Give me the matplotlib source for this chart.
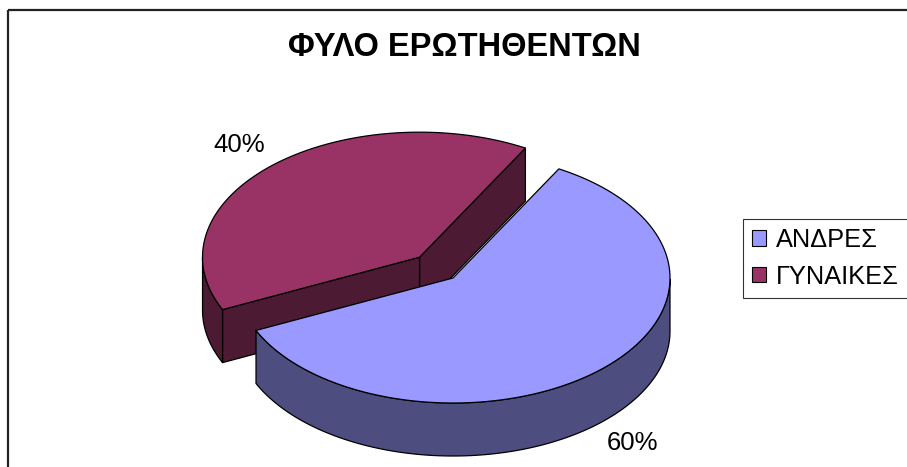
import matplotlib
matplotlib.use('Agg')
import matplotlib.pyplot as plt
import numpy as np
from matplotlib.patches import Polygon, Rectangle, Patch

plt.rcParams['font.family'] = ['Liberation Sans', 'DejaVu Sans']

# δεδομένα
title = 'ΦΥΛΟ ΕΡΩΤΗΘΕΝΤΩΝ'
labels = ['ΑΝΔΡΕΣ', 'ΓΥΝΑΙΚΕΣ']
shares = [60, 40]
top_colors = ['#9999FF', '#993366']
side_colors = ['#4D4D80', '#4D1A33']
explode = [0.0, 0.227]

# γεωμετρία 3D πίτας (σε pixel)
cx, cy = 453, 278
rx, ry = 217, 125
depth = 53
start = 60.8

fig = plt.figure(figsize=(9.07, 4.67), dpi=100)
ax = fig.add_axes([0, 0, 1, 1])
ax.set_xlim(0, 907)
ax.set_ylim(467, 0)
ax.axis('off')


def pt(c, t):
    return c[0] + rx * np.cos(np.radians(t)), c[1] - ry * np.sin(np.radians(t))


total = float(sum(shares))
a1 = start
slices = []
for i, v in enumerate(shares):
    a2 = a1 - 360 * v / total
    mid = (a1 + a2) / 2
    c = (cx + explode[i] * rx * np.cos(np.radians(mid)),
         cy - explode[i] * ry * np.sin(np.radians(mid)))
    slices.append((i, a2, a1, mid, c))
    a1 = a2

# πίσω κομμάτια πρώτα
slices.sort(key=lambda s: s[4][1])

for i, lo, hi, mid, c in slices:
    kw = dict(edgecolor='black', linewidth=0.9, joinstyle='round')
    # πλευρικά τοιχώματα (ακτινικά)
    for ang, nrm in [(lo, lo - 90), (hi, hi + 90)]:
        if np.sin(np.radians(nrm)) < 0:
            x, y = pt(c, ang)
            ax.add_patch(Polygon([c, (x, y), (x, y + depth), (c[0], c[1] + depth)],
                                 facecolor=side_colors[i], **kw))
    # εξωτερικό τοίχωμα (μπροστινό)
    t = np.linspace(lo, hi, 300)
    t = t[np.sin(np.radians(t)) <= 0.0001]
    if len(t) > 1:
        xs = c[0] + rx * np.cos(np.radians(t))
        ys = c[1] - ry * np.sin(np.radians(t))
        poly = list(zip(xs, ys)) + list(zip(xs[::-1], ys[::-1] + depth))
        ax.add_patch(Polygon(poly, facecolor=side_colors[i], **kw))
    # πάνω επιφάνεια
    t = np.linspace(lo, hi, 300)
    xs = c[0] + rx * np.cos(np.radians(t))
    ys = c[1] - ry * np.sin(np.radians(t))
    ax.add_patch(Polygon([c] + list(zip(xs, ys)), facecolor=top_colors[i], **kw))
    # ετικέτα ποσοστού
    lx = c[0] + 1.22 * rx * np.cos(np.radians(mid))
    ly = c[1] - 1.22 * ry * np.sin(np.radians(mid))
    if np.sin(np.radians(mid)) < 0:
        ly += depth
    ax.text(lx, ly, '%d%%' % round(100 * shares[i] / total), fontsize=18.5,
            ha='center', va='center')

ax.text(464, 48, title, fontsize=23.5, fontweight='bold', ha='center', va='center')

# περίγραμμα γραφήματος
ax.add_patch(Rectangle((8, 10), 1000, 1000, fill=False, edgecolor='#222222', linewidth=1.6))

handles = [Patch(facecolor=top_colors[i], edgecolor='black', linewidth=0.8) for i in range(len(labels))]
leg = ax.legend(handles, labels, loc='upper left',
                bbox_to_anchor=(743 / 907, 1 - 299 / 467, 190 / 907, 80 / 467),
                mode='expand', fontsize=18.3, frameon=True, fancybox=False, borderaxespad=0,
                handlelength=0.55, handleheight=0.55, handletextpad=0.4,
                labelspacing=0.5, borderpad=0.35)
leg.get_frame().set_edgecolor('black')
leg.get_frame().set_linewidth(0.8)

fig.savefig('out.png', dpi=100)
